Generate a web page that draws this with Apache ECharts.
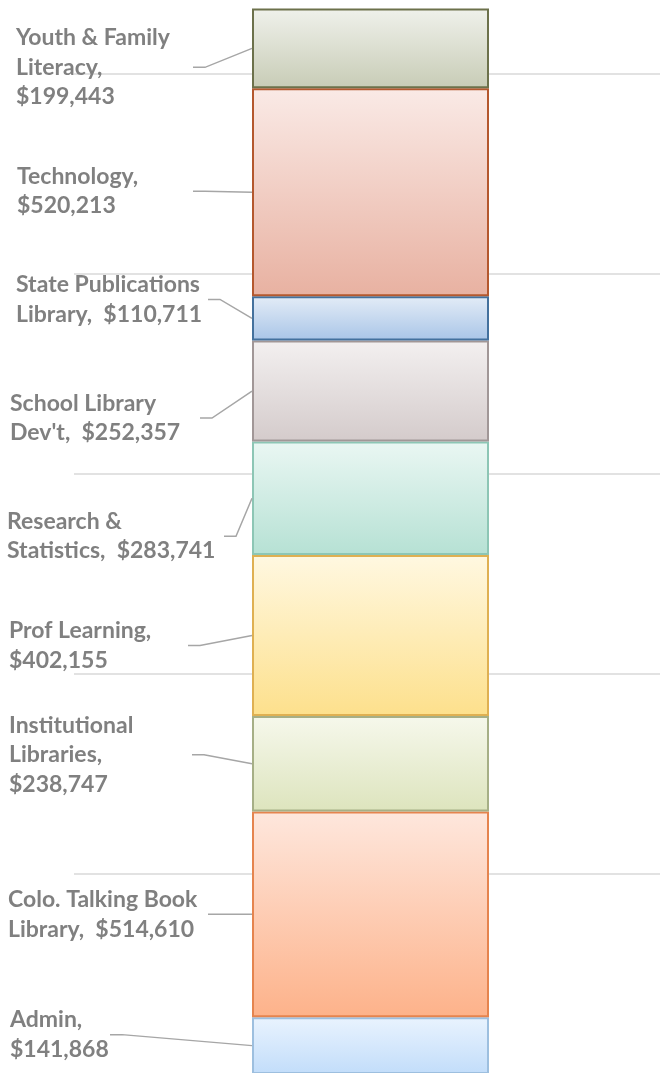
<!DOCTYPE html>
<html>
<head>
<meta charset="utf-8">
<style>
  html, body { margin: 0; padding: 0; background: #fff; }
  #chart { width: 660px; height: 1073px; }
</style>
<script src="https://cdn.jsdelivr.net/npm/echarts@6/dist/echarts.min.js"></script>
</head>
<body>
<div id="chart"></div>
<script>
// data, bottom of the stack first
var categories = ['Admin', 'Colo. Talking Book Library', 'Institutional Libraries', 'Prof Learning',
  'Research & Statistics', "School Library Dev't", 'State Publications Library', 'Technology',
  'Youth & Family Literacy'];
var amounts = [141868, 514610, 238747, 402155, 283741, 252357, 110711, 520213, 199443];
// how each label is wrapped before the amount
var labelHeads = ['Admin,\n', 'Colo. Talking Book\nLibrary,  ', 'Institutional\nLibraries,\n', 'Prof Learning,\n',
  'Research &\nStatistics,  ', "School Library\nDev't,  ", 'State Publications\nLibrary,  ', 'Technology,\n',
  'Youth & Family\nLiteracy,\n'];
var axisTicks = [0, 500000, 1000000, 1500000, 2000000, 2500000, 3000000];

// styles
var topColors = ['#e9f3fe', '#fee7dd', '#f6f8ec', '#fff8e1', '#eaf7f3', '#f3f0f0', '#e3ecf7', '#faeae6', '#eff1eb'];
var bottomColors = ['#c2ddfa', '#fdb28a', '#dde4bd', '#fde08c', '#b6e1d4', '#d4cbcb', '#a9c5e7', '#e8b1a1', '#c8ccb6'];
var borderColors = ['#9dbfdf', '#e5844e', '#a6af86', '#dfb052', '#8dc6b5', '#a19797', '#44719d', '#b4582e', '#6c714b'];
// label placement: text left x, vertical shift from segment middle, leader start x
var labelX = [10, 8, 9, 9, 7, 10, 16, 17, 16];
var labelDy = [-11, 0, -9, 10, 38, 27, -19, -1, 19];
var leaderX = [110, 208, 192, 188, 224, 200, 208, 193, 193];
var barW = 237;

function money(v) {
  return '$' + v.toString().replace(/\B(?=(\d{3})+(?!\d))/g, ',');
}

var chart = echarts.init(document.getElementById('chart'));

var series = categories.map(function (name, i) {
  return {
    name: name,
    type: 'bar',
    stack: 'total',
    barWidth: barW,
    data: [amounts[i]],
    itemStyle: {
      color: new echarts.graphic.LinearGradient(0, 0, 0, 1, [
        { offset: 0, color: topColors[i] },
        { offset: 1, color: bottomColors[i] }
      ]),
      borderColor: borderColors[i],
      borderWidth: 2
    },
    emphasis: { disabled: true }
  };
});

// segment middles for the labels
var mids = [];
var run = 0;
amounts.forEach(function (v, i) {
  mids.push([0, run + v / 2, i]);
  run += v;
});

series.push({
  type: 'custom',
  coordinateSystem: 'cartesian2d',
  clip: false,
  silent: true,
  z: 5,
  data: mids,
  renderItem: function (params, api) {
    var i = api.value(2);
    var p = api.coord([0, api.value(1)]);
    var ty = p[1] + labelDy[i];
    var left = p[0] - barW / 2;
    return {
      type: 'group',
      children: [
        {
          type: 'polyline',
          shape: { points: [[leaderX[i], ty], [leaderX[i] + 12, ty], [left, p[1]]] },
          style: { stroke: '#a6a6a6', lineWidth: 1.5, fill: null }
        },
        {
          type: 'text',
          x: labelX[i],
          y: ty,
          style: {
            text: labelHeads[i] + money(amounts[i]),
            fill: '#808080',
            font: 'bold 23px Lato',
            lineHeight: 29.5,
            align: 'left',
            verticalAlign: 'middle'
          }
        }
      ]
    };
  }
});

var option = {
  animation: false,
  grid: { left: 74, right: -7, top: -126, bottom: -1, outerBoundsMode: 'none', containLabel: false },
  xAxis: {
    type: 'category',
    data: ['Budget'],
    show: false
  },
  yAxis: {
    type: 'value',
    min: axisTicks[0],
    max: axisTicks[axisTicks.length - 1],
    interval: axisTicks[1] - axisTicks[0],
    axisLabel: { show: false },
    axisLine: { show: false },
    axisTick: { show: false },
    splitLine: { lineStyle: { color: '#d9d9d9', width: 1.5 } }
  },
  series: series
};

chart.setOption(option);
</script>
</body>
</html>
